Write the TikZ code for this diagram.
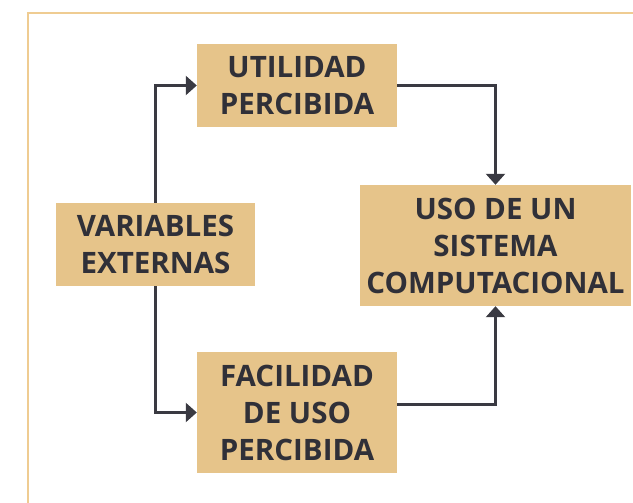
\documentclass[tikz,border=0pt]{standalone}
\usepackage{fontspec}
\setmainfont{Open Sans}
\usepackage{tikz}
\usetikzlibrary{arrows.meta,positioning,calc}
\definecolor{tamcaja}{HTML}{E6C48A}
\definecolor{tammarco}{HTML}{EFCC92}
\definecolor{grisflecha}{HTML}{3A3A42}
\definecolor{gristexto}{HTML}{303038}

\begin{document}
\begin{tikzpicture}[
    x=1pt,y=-1pt,
    caja/.style   = {rectangle, fill=tamcaja, align=center, text=gristexto,
                     font=\fontsize{29.5}{37}\selectfont\bfseries,
                     inner sep=0pt},
    flecha/.style = {-{Triangle[length=11pt,width=19pt]}, grisflecha,
                     line width=2.3pt},
    marco/.style  = {tammarco, line width=2.6pt},
  ]

  % Marco (cortado a la derecha y abajo)
  \clip (0,0) rectangle (633,503);
  \draw[marco] (28,13) rectangle (720,600);

  % Cajas
  \node[caja,minimum width=200pt,minimum height=83pt]  (util) at (297,85.5)
       {UTILIDAD\\PERCIBIDA};
  \node[caja,minimum width=199pt,minimum height=83pt]  (var)  at (155.5,244.5)
       {VARIABLES\\EXTERNAS};
  \node[caja,minimum width=200pt,minimum height=121pt] (faci) at (297,412.5)
       {FACILIDAD\\DE USO\\PERCIBIDA};
  \node[caja,minimum width=271pt,minimum height=121pt] (uso)  at (495.5,245.5)
       {USO DE UN\\SISTEMA\\COMPUTACIONAL};

  % Conectores
  \draw[flecha] (var.north) |- (util.west);
  \draw[flecha] (var.south) |- (faci.west);
  \draw[flecha] (util.east) -| (uso.north);
  \draw[flecha] ([yshift=8pt]faci.east) -| (uso.south);

\end{tikzpicture}
\end{document}
